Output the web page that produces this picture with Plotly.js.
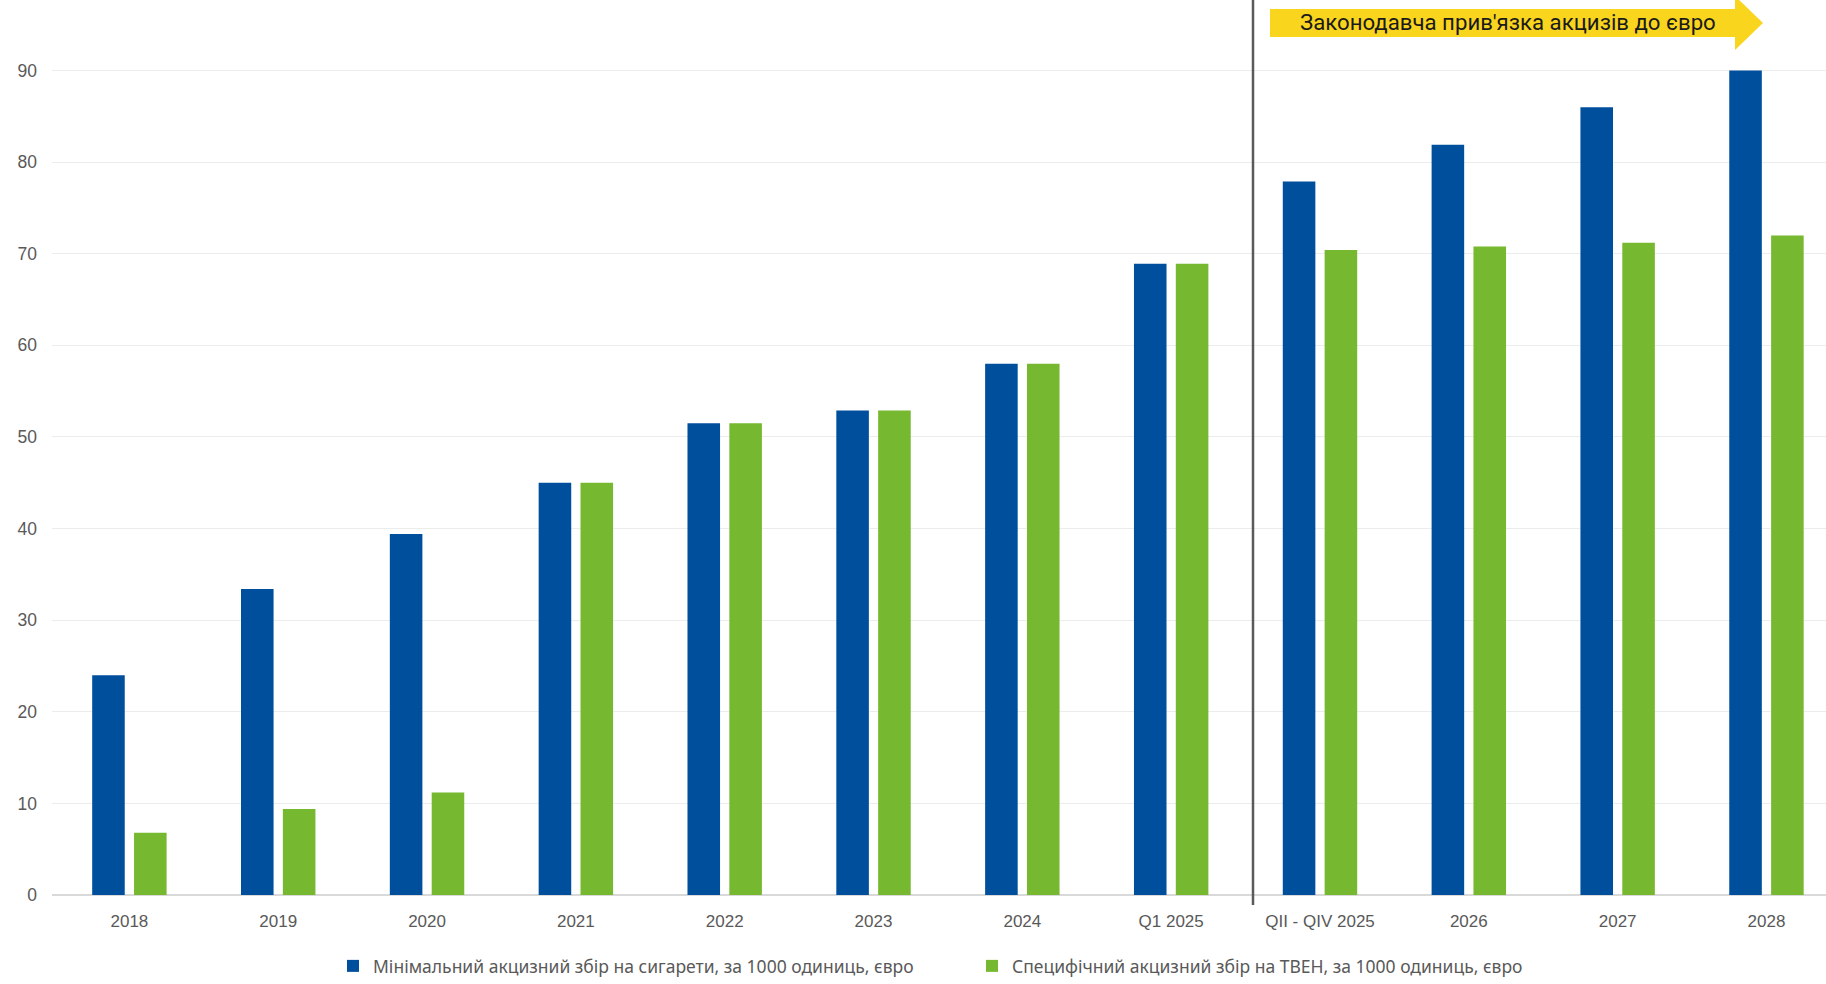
<!DOCTYPE html>
<html>
<head>
<meta charset="utf-8">
<script src="https://cdn.plot.ly/plotly-3.0.1.min.js"></script>
<style>
  html, body { margin: 0; padding: 0; background: #fff; }
  #chart { width: 1826px; height: 984px; }
</style>
</head>
<body>
<div id="chart"></div>
<script>
const categories = ['2018', '2019', '2020', '2021', '2022', '2023', '2024', 'Q1 2025',
  'QII - QIV 2025', '2026', '2027', '2028'];

const cigarettes = [24.0, 33.4, 39.4, 45.0, 51.5, 52.9, 58.0, 68.9, 77.9, 81.9, 86.0, 90.0];
const heated = [6.8, 9.4, 11.2, 45.0, 51.5, 52.9, 58.0, 68.9, 70.4, 70.8, 71.2, 72.0];

const cigName = 'Мінімальний акцизний збір на сигарети, за 1000 одиниць, євро';
const heatedName = 'Специфічний акцизний збір на ТВЕН, за 1000 одиниць, євро';
const arrowText = "Законодавча прив'язка акцизів до євро";

const blue = '#004f9c';
const green = '#76b82f';
const grey = '#595959';

// plot area is 52..1826 px wide, 0..895 px high
const px = x => (x - 52) / 1774;
const py = y => (895 - y) / 895;

const traces = [
  { type: 'bar', name: cigName, x: categories, y: cigarettes, marker: { color: blue }, hoverinfo: 'y' },
  { type: 'bar', name: heatedName, x: categories, y: heated, marker: { color: green }, hoverinfo: 'y' },
];

const arrowPath = 'M' + px(1270) + ',' + py(9) +
  ' L' + px(1735) + ',' + py(9) +
  ' L' + px(1735) + ',' + py(-4) +
  ' L' + px(1763) + ',' + py(23) +
  ' L' + px(1735) + ',' + py(50) +
  ' L' + px(1735) + ',' + py(37) +
  ' L' + px(1270) + ',' + py(37) + ' Z';

const layout = {
  width: 1826,
  height: 984,
  margin: { l: 52, r: 0, t: 0, b: 89 },
  paper_bgcolor: '#fff',
  plot_bgcolor: '#fff',
  font: { family: 'Liberation Sans, Arial, sans-serif', color: grey, size: 17 },
  barmode: 'group',
  bargap: 0.4375,
  bargroupgap: 0.222,
  showlegend: true,
  legend: {
    orientation: 'h',
    x: px(333), xanchor: 'left',
    y: py(966), yanchor: 'middle',
    font: { family: 'Noto Sans, sans-serif', size: 17.5, color: grey },
    itemwidth: 30,
    entrywidth: 594,
    traceorder: 'normal',
  },
  xaxis: {
    type: 'category',
    range: [-0.52, 11.4],
    showgrid: false,
    showline: false,
    ticks: '',
    ticklabelstandoff: 14,
    tickfont: { size: 17, color: grey },
    fixedrange: true,
  },
  yaxis: {
    range: [0, 97.7],
    dtick: 10,
    showgrid: true,
    gridcolor: '#ececec',
    gridwidth: 1,
    zeroline: true,
    zerolinecolor: '#d9d9d9',
    zerolinewidth: 2,
    showline: false,
    ticks: '',
    ticklabelstandoff: 14,
    tickfont: { size: 17.5, color: grey },
    fixedrange: true,
  },
  shapes: [
    {
      type: 'line', xref: 'paper', yref: 'paper',
      x0: px(1253), x1: px(1253), y0: py(905), y1: 1,
      line: { color: '#5a5a5a', width: 2.5 },
    },
    {
      type: 'path', xref: 'paper', yref: 'paper',
      path: arrowPath,
      fillcolor: '#fad51e',
      line: { width: 0 },
      layer: 'above',
    },
  ],
  annotations: [
    {
      xref: 'paper', yref: 'paper',
      x: px(1508), y: py(22),
      text: arrowText,
      showarrow: false,
      font: { family: 'Roboto, sans-serif', size: 22.2, color: '#1a1a1a' },
      xanchor: 'center', yanchor: 'middle',
    },
  ],
};

Plotly.newPlot('chart', traces, layout, { displayModeBar: false, staticPlot: true });
</script>
</body>
</html>
